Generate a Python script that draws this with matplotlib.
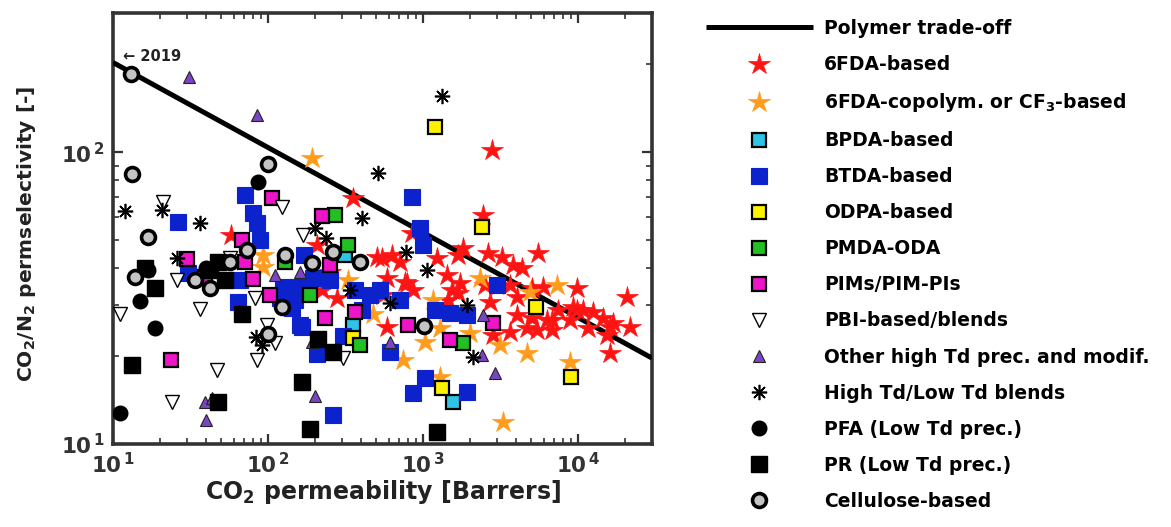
import numpy as np
import matplotlib
matplotlib.use("Agg")
import matplotlib.pyplot as plt
from matplotlib.ticker import FuncFormatter, LogLocator, NullFormatter

plt.rcParams['font.family'] = ['DejaVu Sans']
plt.rcParams['mathtext.fontset'] = 'dejavusans'

# ---------------- data ----------------
tradeoff_x = [10, 30000]
tradeoff_y = [203, 19.7]

fda6_x = [353, 2788, 2438, 57.7, 207, 251, 223, 279, 505, 849, 544, 631, 711, 586, 789,
          1231, 1682, 1812, 2627, 3234, 5520, 3807, 4352, 766, 1428, 1733, 1538, 2512, 2706,
          3642, 4041, 5049, 5945, 9852, 20710, 862, 1450, 586, 4041, 5049, 6799, 8880, 9852,
          10770, 14500, 16090, 21650, 4688, 3642, 2829, 6799, 16090, 1682, 12500, 16820,
          11600, 7431, 6310, 5439, 15390, 9285, 552]
fda6_y = [69.6, 102, 60.8, 52.0, 48.0, 38.8, 33.7, 31.6, 43.7, 52.8, 43.4, 44.4, 42.0, 37.0, 35.6,
          43.4, 44.4, 46.9, 45.1, 43.7, 45.1, 41.0, 40.1, 35.9, 37.9, 35.6, 33.7, 35.0, 30.6,
          35.0, 31.9, 34.2, 34.5, 34.2, 31.9, 33.7, 31.1, 25.2, 27.7, 27.0, 26.6, 26.6, 28.8,
          28.8, 27.0, 25.2, 25.2, 25.0, 24.2, 23.6, 24.6, 20.5, 32.9, 28.3, 26.0,
          25.0, 28.8, 26.6, 24.6, 23.6, 29.5, 32.4]

cop_x = [192, 92.8, 92.8, 328, 476, 743, 1160, 1288, 2011, 1030, 1288, 3140, 4688, 7319,
         4901, 8880, 3282, 2332]
cop_y = [95.4, 44.4, 40.4, 36.4, 27.9, 19.4, 31.1, 25.0, 24.0, 22.4, 17.0, 21.8, 20.5, 35.0,
         33.2, 19.1, 11.9, 37.0]

bpda_x = [314, 353, 1561]
bpda_y = [44.4, 25.6, 13.9]

btda_x = [71.1, 80.0, 26.3, 84.9, 30.5, 66.0, 64.0, 120, 143, 161, 207, 305, 154, 171, 263,
          613, 166, 849, 956, 1000, 455, 1195, 1494, 1923, 1030, 862, 1923, 3002, 125, 195,
          149, 88.8, 251, 364, 528, 711, 404]
btda_y = [71.2, 61.8, 57.6, 57.1, 38.5, 36.4, 30.6, 31.6, 29.2, 25.6, 20.3, 23.4, 34.5, 44.4, 12.6,
          20.7, 25.2, 70.1, 54.9, 48.0, 32.4, 28.8, 28.1, 27.7, 16.8, 15.0, 15.1, 35.0, 34.5, 37.0,
          31.1, 50.0, 36.4, 33.7, 33.7, 31.1, 28.8]

odpa_x = [1195, 2402, 5358, 9015, 1326, 353]
odpa_y = [122, 55.4, 29.5, 17.0, 15.6, 23.1]

pmda_x = [271, 328, 129, 187, 392, 1812]
pmda_y = [60.8, 48.0, 42.0, 32.4, 21.8, 22.2]

pim_x = [106, 223, 68.0, 30.0, 39.2, 71.1, 80.0, 103, 233, 364, 23.7, 800, 1494, 2829, 251]
pim_y = [69.6, 60.4, 50.0, 43.0, 37.3, 42.0, 36.7, 32.4, 27.0, 28.3, 19.4, 25.6, 22.7, 26.0, 41.0]

pbi_x = [21.0, 123, 25.9, 36.4, 11.1, 82.5, 84.9, 98.5, 111, 46.9, 24.0, 305, 168, 56.9]
pbi_y = [67.4, 64.8, 36.4, 29.0, 27.9, 31.6, 19.4, 25.6, 22.2, 17.9, 13.9, 19.7, 52.0, 43.4]

other_x = [30.9, 84.9, 39.2, 43.5, 39.8, 201, 192, 111, 161, 613, 2402, 2914, 2438]
other_y = [181, 134, 13.9, 14.4, 12.1, 14.6, 22.4, 37.9, 38.8, 22.4, 20.2, 17.5, 27.7]

blend_x = [11.95, 20.7, 36.4, 25.9, 513, 404, 1326, 201, 237, 777, 1061, 613, 1923, 2102,
           83.7, 91.5, 338]
blend_y = [62.8, 63.3, 57.1, 43.4, 84.8, 59.4, 156, 54.9, 50.8, 45.5, 39.4, 30.4, 29.9, 19.9,
           23.3, 21.8, 33.7]

pfa_x = [86.2, 14.9, 18.7, 11.1, 39.8, 55.2, 16.8]
pfa_y = [78.9, 30.9, 25.0, 12.8, 40.1, 42.0, 39.4]

pr_x = [16.1, 18.7, 13.3, 47.6, 166, 187, 68.0, 47.6, 42.3, 210, 263, 1231, 52.8]
pr_y = [40.1, 34.2, 18.6, 13.9, 16.3, 11.3, 27.9, 42.0, 39.4, 22.9, 20.7, 11.0, 36.4]

cell_x = [13.1, 13.3, 100, 16.8, 13.9, 42.3, 73.2, 123, 263, 392, 192, 100, 1015, 56.9, 129, 33.8]
cell_y = [185, 84.1, 91.0, 51.2, 37.3, 34.2, 46.2, 29.5, 45.5, 42.0, 41.7, 23.8, 25.4, 42.0, 44.4, 36.4]

labels = ['Polymer trade-off', '6FDA-based', r'6FDA-copolym. or CF$_\mathbf{3}$-based',
          'BPDA-based', 'BTDA-based', 'ODPA-based', 'PMDA-ODA', 'PIMs/PIM-PIs',
          'PBI-based/blends', 'Other high Td prec. and modif.', 'High Td/Low Td blends',
          'PFA (Low Td prec.)', 'PR (Low Td prec.)', 'Cellulose-based']

# ---------------- figure ----------------
W, H = 1171, 527
fig = plt.figure(figsize=(W / 100, H / 100), dpi=100)
ax = fig.add_axes([113 / W, 1 - 444 / H, (652 - 113) / W, (444 - 13) / H])
ax.set_xscale('log')
ax.set_yscale('log')

handles = []
h, = ax.plot(tradeoff_x, tradeoff_y, color='black', lw=3.6, solid_capstyle='butt', zorder=3)
handles.append(h)

def pts(x, y, **kw):
    hh, = ax.plot(x, y, linestyle='none', **kw)
    handles.append(hh)

pts(fda6_x, fda6_y, marker='*', ms=16, mfc='#ff1414', mec='#ff1414', mew=0.5, zorder=4)
pts(cop_x, cop_y, marker='*', ms=16, mfc='#ff9c1c', mec='#ff9c1c', mew=0.5, zorder=4)
pts(bpda_x, bpda_y, marker='s', ms=10.5, mfc='#2ec4e6', mec='black', mew=1.6, zorder=4)
pts(btda_x, btda_y, marker='s', ms=11, mfc='#0b22cc', mec='#0b22cc', mew=0.8, zorder=4)
pts(odpa_x, odpa_y, marker='s', ms=10.5, mfc='#fff200', mec='black', mew=1.6, zorder=4)
pts(pmda_x, pmda_y, marker='s', ms=10.5, mfc='#22c022', mec='black', mew=1.6, zorder=4)
pts(pim_x, pim_y, marker='s', ms=10.5, mfc='#ee14c8', mec='black', mew=1.6, zorder=4)
pts(pbi_x, pbi_y, marker='v', ms=10.5, mfc='white', mec='black', mew=1.0, zorder=4)
pts(other_x, other_y, marker='^', ms=8.5, mfc='#7b44c4', mec='#222222', mew=0.8, zorder=4)
pts(blend_x, blend_y, marker=(8, 2, 0), ms=11, color='black', mew=1.2, zorder=4)
pts(pfa_x, pfa_y, marker='o', ms=10.5, mfc='black', mec='black', zorder=4)
pts(pr_x, pr_y, marker='s', ms=11, mfc='black', mec='black', zorder=4)
pts(cell_x, cell_y, marker='o', ms=10, mfc='#c4c4c4', mec='black', mew=2.6, zorder=4)

ax.text(11.6, 212, '\u2190 2019', fontsize=10.5, fontweight='bold', va='center', ha='left',
        color='#222222')

ax.set_xlim(10, 30000)
ax.set_ylim(10, 300)

fmt = FuncFormatter(lambda v, p: r'$\mathbf{10^{\,%d}}$' % int(round(np.log10(v))))
ax.xaxis.set_major_locator(LogLocator(base=10, numticks=10))
ax.yaxis.set_major_locator(LogLocator(base=10, numticks=10))
ax.xaxis.set_major_formatter(fmt)
ax.yaxis.set_major_formatter(fmt)
ax.xaxis.set_minor_formatter(NullFormatter())
ax.yaxis.set_minor_formatter(NullFormatter())
ax.tick_params(which='both', direction='in', top=True, right=True, colors='#333333',
               labelsize=15.5)
ax.tick_params(which='major', length=7, width=1.6, pad=6)
ax.tick_params(which='minor', length=4, width=1.2)
for s in ax.spines.values():
    s.set_linewidth(2.6)
    s.set_color('#333333')

ax.set_xlabel(r'CO$_\mathbf{2}$ permeability [Barrers]', fontsize=17, fontweight='bold',
              color='#222222', labelpad=0)
ax.set_ylabel(r'CO$_\mathbf{2}$/N$_\mathbf{2}$ permselectivity [-]', fontsize=14.6,
              fontweight='bold', color='#222222')
ax.yaxis.set_label_coords(-0.14, 0.487)

fig.legend(handles, labels, loc='upper left', bbox_to_anchor=(706 / W, 1 - 19 / H),
           frameon=False, handlelength=5.7, handletextpad=0.6, labelspacing=0.91,
           borderpad=0, borderaxespad=0, numpoints=1,
           prop={'weight': 'bold', 'size': 13.5})

fig.savefig('out.png', dpi=100)
